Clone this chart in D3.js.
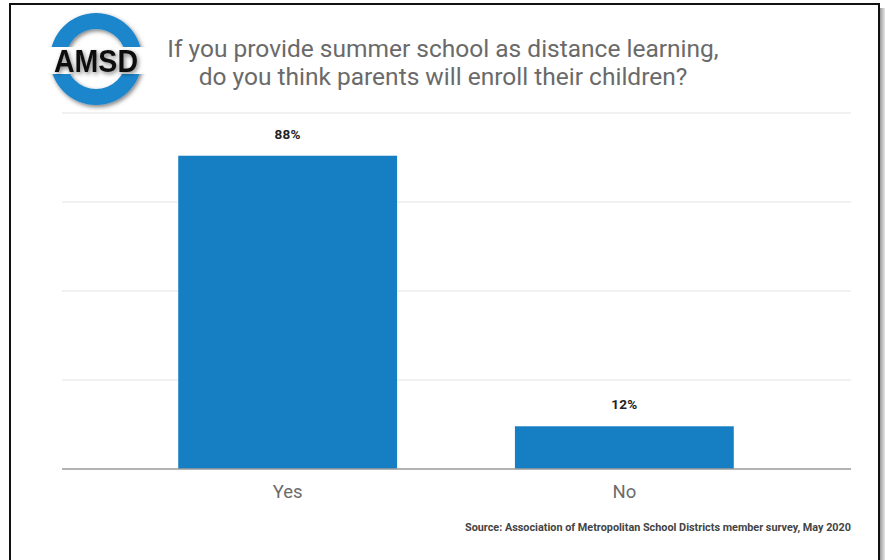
<!DOCTYPE html>
<html>
<head>
<meta charset="utf-8">
<script src="https://cdn.jsdelivr.net/npm/d3@7"></script>
<style>
  html, body { margin: 0; padding: 0; background: #fff; }
  svg { display: block; }
</style>
</head>
<body>
<svg id="chart" width="885" height="560"></svg>
<script>
// Survey answers and their shares (percent)
const categories = ["Yes", "No"];
const values = [88, 12];
const valueLabels = ["88%", "12%"];
const gridTicks = [0, 25, 50, 75, 100];

const titleLines = [
  "If you provide summer school as distance learning,",
  "do you think parents will enroll their children?"
];
const sourceText = "Source: Association of Metropolitan School Districts member survey, May 2020";

const svg = d3.select("#chart");
const defs = svg.append("defs");

// soft shadow for the logo
const shadow = defs.append("filter").attr("id", "logoShadow")
  .attr("x", "-30%").attr("y", "-30%").attr("width", "160%").attr("height", "160%");
shadow.append("feDropShadow").attr("dx", 1.5).attr("dy", 2).attr("stdDeviation", 2)
  .attr("flood-color", "#000").attr("flood-opacity", 0.5);

const edge = defs.append("linearGradient").attr("id", "edgeShade")
  .attr("x1", 0).attr("x2", 1).attr("y1", 0).attr("y2", 0);
edge.append("stop").attr("offset", 0).attr("stop-color", "#9a9a9a");
edge.append("stop").attr("offset", 1).attr("stop-color", "#e6e6e6");

// card shading on the right edge, and the frame
svg.append("rect").attr("x", 880).attr("y", 8).attr("width", 5).attr("height", 552)
  .attr("fill", "url(#edgeShade)");
svg.append("rect").attr("x", 10).attr("y", 4).attr("width", 869).attr("height", 600)
  .attr("fill", "#fff").attr("stroke", "#111").attr("stroke-width", 2);

// ---- logo ----
const logo = svg.append("g").attr("transform", "translate(96,59)");
const band = defs.append("clipPath").attr("id", "ringClip");
band.append("rect").attr("x", -60).attr("y", -60).attr("width", 120).attr("height", 48);
band.append("rect").attr("x", -60).attr("y", 15).attr("width", 120).attr("height", 48);
logo.append("path")
  .attr("d", d3.arc()({ innerRadius: 30, outerRadius: 46, startAngle: 0, endAngle: 2 * Math.PI }))
  .attr("fill", "#1f86cc")
  .attr("clip-path", "url(#ringClip)")
  .attr("filter", "url(#logoShadow)");
logo.append("text")
  .attr("x", 0).attr("y", 13)
  .attr("text-anchor", "middle")
  .attr("font-family", "Liberation Sans, Arial, sans-serif")
  .attr("font-weight", "bold")
  .attr("font-size", 32)
  .attr("textLength", 84)
  .attr("lengthAdjust", "spacingAndGlyphs")
  .attr("fill", "#111")
  .attr("filter", "url(#logoShadow)")
  .text("AMSD");

// ---- title ----
svg.append("g").selectAll("text").data(titleLines).join("text")
  .attr("x", 443)
  .attr("y", (d, i) => 57 + i * 28)
  .attr("text-anchor", "middle")
  .attr("font-family", "Roboto, sans-serif")
  .attr("font-size", 24.5)
  .attr("fill", "#6a6a6a")
  .text(d => d);

// ---- chart ----
const y = d3.scaleLinear().domain([0, 100]).range([469, 113]);
const x = d3.scaleBand().domain(categories).range([121, 791])
  .paddingInner(0.35).paddingOuter(0.17);

svg.append("g").selectAll("line").data(gridTicks.filter(t => t > 0)).join("line")
  .attr("x1", 62).attr("x2", 851)
  .attr("y1", d => y(d)).attr("y2", d => y(d))
  .attr("stroke", "#e3e3e3").attr("stroke-width", 1);

svg.append("g").selectAll("rect").data(values).join("rect")
  .attr("x", (d, i) => x(categories[i]))
  .attr("width", x.bandwidth())
  .attr("y", d => y(d))
  .attr("height", d => y(0) - y(d))
  .attr("fill", "#167fc3");

svg.append("line")
  .attr("x1", 62).attr("x2", 851)
  .attr("y1", y(0)).attr("y2", y(0))
  .attr("stroke", "#9a9a9a").attr("stroke-width", 1.5);

svg.append("g").selectAll("text").data(values).join("text")
  .attr("x", (d, i) => x(categories[i]) + x.bandwidth() / 2)
  .attr("y", d => y(d) - 17)
  .attr("text-anchor", "middle")
  .attr("font-family", "Roboto, sans-serif")
  .attr("font-weight", "bold")
  .attr("font-size", 13.5)
  .attr("letter-spacing", 0.3)
  .attr("fill", "#222")
  .text((d, i) => valueLabels[i]);

const xAxis = svg.append("g").attr("transform", `translate(0,${y(0)})`)
  .call(d3.axisBottom(x).tickSize(0).tickPadding(16));
xAxis.select(".domain").remove();
xAxis.selectAll("text")
  .attr("font-family", "Roboto, sans-serif")
  .attr("font-size", 18.5)
  .attr("fill", "#6b6b6b");

// ---- source ----
svg.append("text")
  .attr("x", 851).attr("y", 531)
  .attr("text-anchor", "end")
  .attr("font-family", "Roboto, sans-serif")
  .attr("font-weight", "bold")
  .attr("font-size", 10.5)
  .attr("textLength", 386)
  .attr("lengthAdjust", "spacingAndGlyphs")
  .attr("fill", "#444")
  .text(sourceText);
</script>
</body>
</html>
